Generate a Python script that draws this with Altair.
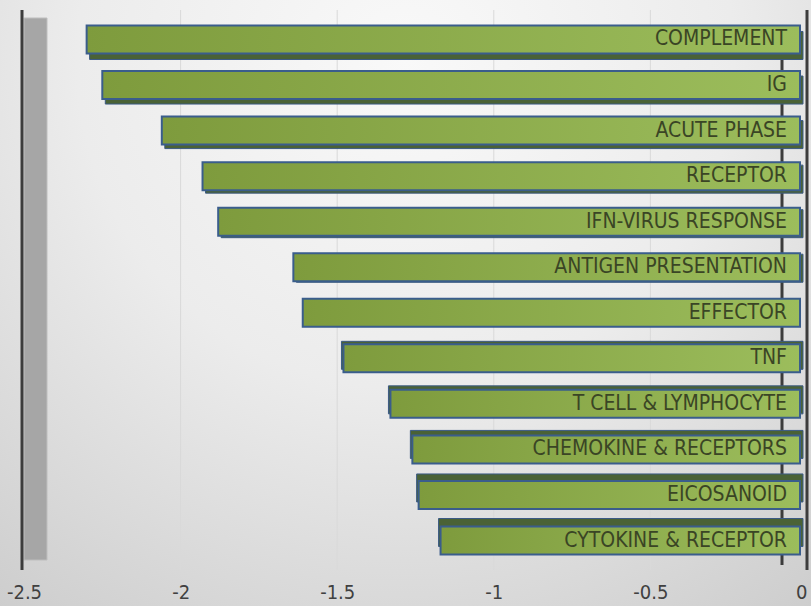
import altair as alt
import pandas as pd

categories = [
    "COMPLEMENT", "IG", "ACUTE PHASE", "RECEPTOR", "IFN-VIRUS RESPONSE",
    "ANTIGEN PRESENTATION", "EFFECTOR", "TNF", "T CELL & LYMPHOCYTE",
    "CHEMOKINE & RECEPTORS", "EICOSANOID", "CYTOKINE & RECEPTOR",
]
values = [-2.30, -2.25, -2.06, -1.93, -1.88, -1.64, -1.61, -1.48, -1.33, -1.26, -1.24, -1.17]
x_ticks = [-2.5, -2, -1.5, -1, -0.5, 0]
grid_ticks = [-2, -1.5, -1, -0.5]

df = pd.DataFrame({"category": categories, "value": values})

W, H = 783, 560
FONT = "Liberation Sans Narrow, DejaVu Sans Condensed, Open Sans, sans-serif"

xscale = alt.Scale(domain=[-2.5, 0], nice=False, zero=False)
yscale = alt.Scale(domain=categories, paddingInner=0.385, paddingOuter=0.34)
yaxis = alt.Axis(labels=False, ticks=False, domain=False, grid=False, title=None)

# background gradient panel covering the whole canvas
bg = alt.Chart(pd.DataFrame({"a": [0]})).mark_rect(
    fill=alt.Gradient(
        gradient="radial",
        stops=[alt.GradientStop(color="#f9f9f9", offset=0),
               alt.GradientStop(color="#ececec", offset=0.45),
               alt.GradientStop(color="#c9c9c9", offset=1)],
        x1=0.5, y1=0.2, r1=0, x2=0.5, y2=0.2, r2=0.9,
    )
).encode(x=alt.value(-24), x2=alt.value(787), y=alt.value(-10), y2=alt.value(596))

# faint grid lines
grid = alt.Chart(pd.DataFrame({"g": grid_ticks})).mark_rule(
    color="#d9d9d9", strokeWidth=1
).encode(x=alt.X("g:Q", scale=xscale), y=alt.value(0), y2=alt.value(H))

# left gray side wall
wall = alt.Chart(pd.DataFrame({"a": [-2.5], "b": [-2.4266]})).mark_rect(
    fill="#a6a6a6", stroke="#bdbdbd", strokeWidth=1
).encode(
    x=alt.X("a:Q", scale=xscale),
    x2="b:Q",
    y=alt.value(8), y2=alt.value(550),
)

left_line = alt.Chart(pd.DataFrame({"z": [-2.5]})).mark_rule(
    color="#3c3c3c", strokeWidth=3, xOffset=-2
).encode(x=alt.X("z:Q", scale=xscale), y=alt.value(0), y2=alt.value(H))

# back wall line at zero
back_line = alt.Chart(pd.DataFrame({"z": [0]})).mark_rule(
    color="#3c3c3c", strokeWidth=3, xOffset=-25
).encode(x=alt.X("z:Q", scale=xscale), y=alt.value(20), y2=alt.value(555))

# depth faces (3D look) per bar
depths = [6, 5, 4, 3, 2, 1, 0, -3, -4, -5, -7, -8]
shadow_layers = []
for cat, d in zip(categories, depths):
    if d == 0:
        continue
    shadow_layers.append(
        alt.Chart(df).transform_filter(alt.datum.category == cat).mark_bar(
            color="#4a6236", stroke="#3b5a84", strokeWidth=1,
            yOffset=d, xOffset=3 if d > 0 else -2, x2Offset=-4,
        ).encode(
            y=alt.Y("category:N", scale=yscale, axis=yaxis),
            x=alt.X("value:Q", scale=xscale),
            x2=alt.datum(0),
        )
    )

bars = alt.Chart(df).mark_bar(
    fill=alt.Gradient(
        gradient="linear",
        stops=[alt.GradientStop(color="#7e9b3d", offset=0),
               alt.GradientStop(color="#9cbd5c", offset=1)],
        x1=0, x2=1, y1=0, y2=0,
    ),
    stroke="#3a5d8c", strokeWidth=2, x2Offset=-7,
).encode(
    y=alt.Y("category:N", scale=yscale, axis=yaxis),
    x=alt.X("value:Q", scale=xscale, axis=alt.Axis(
        values=x_ticks, title=None, ticks=False, domain=False,
        grid=False, zindex=1,
        labelExpr="'' + datum.value",
        labelAlign=alt.expr("datum.value === 0 ? 'right' : 'center'"),
        labelFont=FONT, labelFontSize=20, labelColor="#404040",
        labelPadding=12, labelFlush=False)),
    x2=alt.datum(0),
)

labels = alt.Chart(df).mark_text(
    align="right", baseline="middle", dx=-20, font=FONT, fontSize=21,
    color="#3a4525",
).encode(
    y=alt.Y("category:N", scale=yscale, axis=yaxis),
    x=alt.datum(0, scale=xscale),
    text="category:N",
)

front_line = alt.Chart(pd.DataFrame({"z": [0]})).mark_rule(
    color="#3c3c3c", strokeWidth=3
).encode(x=alt.X("z:Q", scale=xscale), y=alt.value(0), y2=alt.value(H))

chart = alt.layer(
    bg, grid, wall, left_line, back_line, *shadow_layers, bars, labels, front_line
).properties(
    width=W, height=H,
    padding={"left": 24, "top": 10, "right": 4, "bottom": 36},
    autosize=alt.AutoSizeParams(type="none"),
    background="#d6d6d6",
).configure_view(stroke=None)

chart.save("out.html", embed_options={"renderer": "svg", "actions": False})
